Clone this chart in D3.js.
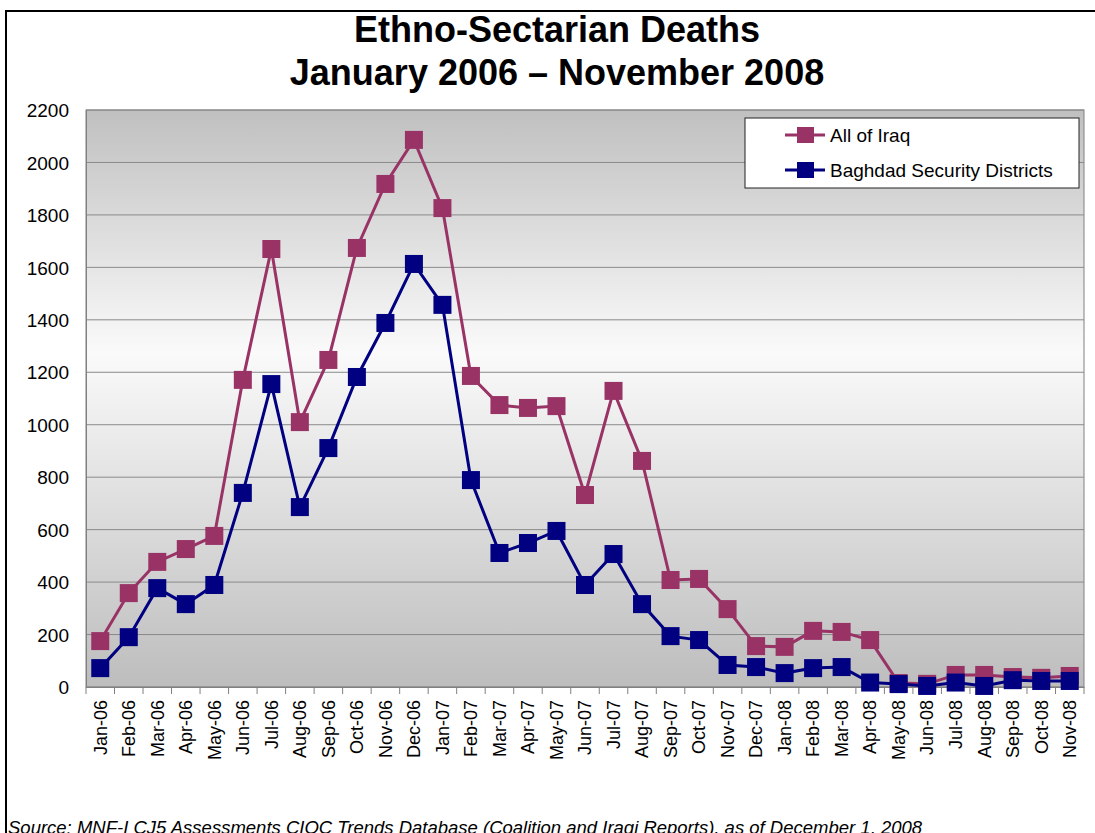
<!DOCTYPE html>
<html>
<head>
<meta charset="utf-8">
<script src="https://cdn.jsdelivr.net/npm/d3@7"></script>
<style>
  body { margin: 0; background: #fff; }
  text { font-family: Arial, "Liberation Sans", sans-serif; fill: #000; }
</style>
</head>
<body>
<div id="chart"></div>
<script>
// chart data
var months = ["Jan-06","Feb-06","Mar-06","Apr-06","May-06","Jun-06","Jul-06","Aug-06","Sep-06","Oct-06","Nov-06","Dec-06",
  "Jan-07","Feb-07","Mar-07","Apr-07","May-07","Jun-07","Jul-07","Aug-07","Sep-07","Oct-07","Nov-07","Dec-07",
  "Jan-08","Feb-08","Mar-08","Apr-08","May-08","Jun-08","Jul-08","Aug-08","Sep-08","Oct-08","Nov-08"];

var allIraq = [175, 358, 477, 526, 576, 1171, 1670, 1010, 1247, 1674, 1918, 2086,
  1826, 1186, 1075, 1064, 1071, 732, 1129, 862, 408, 412, 297, 156,
  153, 214, 210, 179, 15, 12, 46, 46, 38, 35, 42];

var baghdad = [72, 190, 377, 316, 389, 740, 1155, 686, 911, 1182, 1388, 1613,
  1457, 789, 511, 549, 595, 389, 507, 316, 194, 179, 84, 76,
  53, 72, 76, 17, 11, 4, 17, 4, 26, 23, 23];

var yTicks = [0, 200, 400, 600, 800, 1000, 1200, 1400, 1600, 1800, 2000, 2200];

var seriesNames = ["All of Iraq", "Baghdad Security Districts"];
var seriesColors = ["#993366", "#000080"];

var svgWidth = 1095;
var svgHeight = 833;

var margin = { top: 110, right: 11, bottom: 146, left: 86 };
var width = svgWidth - margin.left - margin.right;
var height = svgHeight - margin.top - margin.bottom;

var svg = d3.select("#chart")
  .append("svg")
  .attr("width", svgWidth)
  .attr("height", svgHeight);

// outer frame (top + left edges)
svg.append("path")
  .attr("d", "M6,833 V11 H1095")
  .attr("fill", "none")
  .attr("stroke", "#000")
  .attr("stroke-width", 2);

// title
svg.append("text")
  .attr("x", 557).attr("y", 42)
  .attr("text-anchor", "middle")
  .style("font-size", "36px").style("font-weight", "bold")
  .text("Ethno-Sectarian Deaths");
svg.append("text")
  .attr("x", 557).attr("y", 85)
  .attr("text-anchor", "middle")
  .style("font-size", "36px").style("font-weight", "bold")
  .text("January 2006 \u2013 November 2008");

// background gradient
var grad = svg.append("defs").append("linearGradient")
  .attr("id", "bg").attr("x1", 0).attr("y1", 0).attr("x2", 0).attr("y2", 1);
grad.append("stop").attr("offset", "0%").attr("stop-color", "#c0c0c0");
grad.append("stop").attr("offset", "42%").attr("stop-color", "#fafafa");
grad.append("stop").attr("offset", "100%").attr("stop-color", "#bdbdbd");

var chartGroup = svg.append("g")
  .attr("transform", `translate(${margin.left}, ${margin.top})`);

chartGroup.append("rect")
  .attr("width", width).attr("height", height)
  .attr("fill", "url(#bg)")
  .attr("stroke", "#808080");

var xScale = d3.scaleBand()
  .domain(months)
  .range([0, width]);

var yScale = d3.scaleLinear()
  .domain([0, 2200])
  .range([height, 0]);

// gridlines
chartGroup.selectAll(".grid")
  .data(yTicks)
  .enter()
  .append("line")
  .attr("x1", 0).attr("x2", width)
  .attr("y1", d => yScale(d)).attr("y2", d => yScale(d))
  .attr("stroke", "#8a8a8a");

// y axis
var leftAxis = d3.axisLeft(yScale)
  .tickValues(yTicks)
  .tickFormat(d3.format("d"))
  .tickSize(0)
  .tickPadding(17);
var yAxis = chartGroup.append("g").call(leftAxis);
yAxis.select(".domain").attr("stroke", "#808080");
yAxis.selectAll("text").style("font-size", "19px").attr("dy", "0.35em");

// x axis
var bottomAxis = d3.axisBottom(xScale).tickSize(0).tickPadding(0);
var xAxis = chartGroup.append("g")
  .attr("transform", `translate(0, ${height})`)
  .call(bottomAxis);
xAxis.select(".domain").attr("stroke", "#808080");
xAxis.selectAll("text")
  .style("font-size", "18px")
  .attr("text-anchor", "end")
  .attr("dy", "0.35em")
  .attr("transform", "translate(0, 13) rotate(-90)")
  .attr("x", 0).attr("y", 0);

// tick marks between months
chartGroup.selectAll(".xtick")
  .data(months.concat(["end"]))
  .enter()
  .append("line")
  .attr("x1", (d, i) => i * xScale.step())
  .attr("x2", (d, i) => i * xScale.step())
  .attr("y1", height).attr("y2", height + 7)
  .attr("stroke", "#808080");

// series
var line = d3.line()
  .x((d, i) => xScale(months[i]) + xScale.bandwidth() / 2)
  .y(d => yScale(d));

[allIraq, baghdad].forEach(function(vals, k) {
  chartGroup.append("path")
    .datum(vals)
    .attr("d", line)
    .attr("fill", "none")
    .attr("stroke", seriesColors[k])
    .attr("stroke-width", 3);

  chartGroup.selectAll(".m" + k)
    .data(vals)
    .enter()
    .append("rect")
    .attr("x", (d, i) => xScale(months[i]) + xScale.bandwidth() / 2 - 9)
    .attr("y", d => yScale(d) - 9)
    .attr("width", 18).attr("height", 18)
    .attr("fill", seriesColors[k]);
});

// legend
var legend = svg.append("g").attr("transform", "translate(745, 118)");
legend.append("rect")
  .attr("width", 334).attr("height", 70)
  .attr("fill", "#fff")
  .attr("stroke", "#222");

seriesNames.forEach(function(name, k) {
  var cy = 17 + k * 35;
  legend.append("line")
    .attr("x1", 40).attr("x2", 80)
    .attr("y1", cy).attr("y2", cy)
    .attr("stroke", seriesColors[k]).attr("stroke-width", 3);
  legend.append("rect")
    .attr("x", 52).attr("y", cy - 8)
    .attr("width", 17).attr("height", 16)
    .attr("fill", seriesColors[k]);
  legend.append("text")
    .attr("x", 85).attr("y", cy + 7)
    .style("font-size", "19px")
    .text(name);
});

// source note
svg.append("text")
  .attr("x", 8).attr("y", 834)
  .style("font-size", "18.5px").style("font-style", "italic")
  .text("Source:  MNF-I CJ5 Assessments CIOC Trends Database (Coalition and Iraqi Reports), as of December 1, 2008");
</script>
</body>
</html>
